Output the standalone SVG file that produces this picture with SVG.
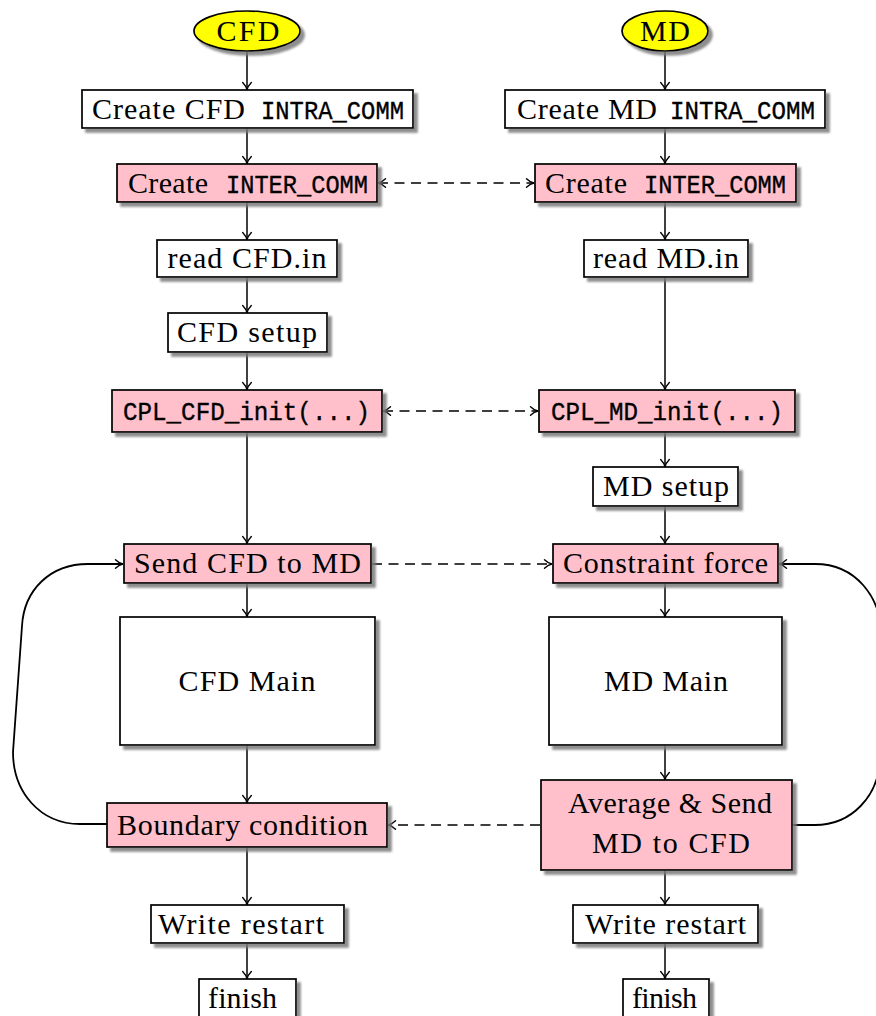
<svg xmlns="http://www.w3.org/2000/svg" width="876" height="1016" viewBox="0 0 876 1016">
  <defs>
    <filter id="shadow" x="-10%" y="-10%" width="125%" height="140%">
      <feOffset in="SourceAlpha" dx="3.5" dy="3.5" result="off"/>
      <feGaussianBlur in="off" stdDeviation="1.3" result="blur"/>
      <feFlood flood-color="#7a7a7a" flood-opacity="0.85"/>
      <feComposite in2="blur" operator="in" result="shade"/>
      <feMerge>
        <feMergeNode in="shade"/>
        <feMergeNode in="SourceGraphic"/>
      </feMerge>
    </filter>
    <marker id="tip" viewBox="-10 -6 12 12" refX="0" refY="0" markerWidth="12" markerHeight="12" markerUnits="userSpaceOnUse" orient="auto-start-reverse">
      <path d="M-7.5,-4.3 C-4.8,-1.7 -2.4,-0.4 0,0 C-2.4,0.4 -4.8,1.7 -7.5,4.3" fill="none" stroke="#000" stroke-width="1.4" stroke-linecap="round"/>
    </marker>
  </defs>
  <style>
    .box { stroke: #000; stroke-width: 1.7; filter: url(#shadow); }
    .plain { fill: #fff; }
    .pink { fill: #ffc0cb; }
    .start { fill: #ffff00; stroke: #000; stroke-width: 1.7; filter: url(#shadow); }
    .rm { font-family: "Liberation Serif", "Times New Roman", serif; font-size: 30px; fill: #000; }
    .tt { font-family: "Liberation Mono", "Courier New", monospace; font-size: 26px; fill: #000; stroke: #000; stroke-width: 0.35; }
    .flow { fill: none; stroke: #000; stroke-width: 1.5; marker-end: url(#tip); }
    .both { fill: none; stroke: #000; stroke-width: 1.6; stroke-dasharray: 10 6.5; marker-start: url(#tip); marker-end: url(#tip); }
    .one { fill: none; stroke: #000; stroke-width: 1.6; stroke-dasharray: 10 6.5; marker-end: url(#tip); }
    .loop { fill: none; stroke: #000; stroke-width: 1.8; marker-end: url(#tip); }
  </style>

  <!-- connectors -->
  <g id="connectors">
    <!-- CFD column -->
    <path class="flow" d="M247,51 V90"/>
    <path class="flow" d="M247,128 V164"/>
    <path class="flow" d="M247,202 V240"/>
    <path class="flow" d="M247,277 V313"/>
    <path class="flow" d="M247,352 V390"/>
    <path class="flow" d="M247,432 V544"/>
    <path class="flow" d="M247,583 V617"/>
    <path class="flow" d="M247,745 V803"/>
    <path class="flow" d="M247,847 V905"/>
    <path class="flow" d="M247,943 V979"/>
    <!-- MD column -->
    <path class="flow" d="M665,51 V90"/>
    <path class="flow" d="M665,128 V164"/>
    <path class="flow" d="M665,202 V240"/>
    <path class="flow" d="M665,277 V390"/>
    <path class="flow" d="M665,432 V467"/>
    <path class="flow" d="M665,506 V544"/>
    <path class="flow" d="M665,583 V617"/>
    <path class="flow" d="M665,745 V780"/>
    <path class="flow" d="M665,870 V905"/>
    <path class="flow" d="M665,943 V979"/>
    <!-- coupling exchanges -->
    <path class="both" d="M378,183 H534"/>
    <path class="both" d="M383,411 H538"/>
    <path class="one" d="M372,564 H552"/>
    <path class="one" d="M540,825 H388"/>
    <!-- time-step loops -->
    <path class="loop" d="M107,824 H80 C40,824 13,792 13,752 L22,626 C24,590 50,564 88,564 H123"/>
    <path class="loop" d="M792,825 H815 C852,825 878,796 880,760 L882,640 C882,596 855,564 815,564 H779"/>
  </g>

  <!-- start terminals -->
  <g id="cfd-start">
    <ellipse class="start" cx="247" cy="31" rx="53" ry="20"/>
    <text class="rm" x="248" y="41" text-anchor="middle" textLength="63">CFD</text>
  </g>
  <g id="md-start">
    <ellipse class="start" cx="665" cy="31" rx="43" ry="20"/>
    <text class="rm" x="665" y="41" text-anchor="middle" textLength="50">MD</text>
  </g>

  <!-- CFD column nodes -->
  <g id="cfd-intra">
    <rect class="box plain" x="82" y="90" width="331" height="38"/>
    <text class="rm" x="92" y="119" textLength="153">Create CFD</text>
    <text class="tt" x="261" y="119" textLength="143" lengthAdjust="spacingAndGlyphs">INTRA_COMM</text>
  </g>
  <g id="cfd-inter">
    <rect class="box pink" x="117" y="164" width="260" height="38"/>
    <text class="rm" x="128" y="193" textLength="80">Create</text>
    <text class="tt" x="226" y="193" textLength="142" lengthAdjust="spacingAndGlyphs">INTER_COMM</text>
  </g>
  <g id="cfd-read">
    <rect class="box plain" x="157" y="240" width="180" height="37"/>
    <text class="rm" x="247" y="268" text-anchor="middle" textLength="159">read CFD.in</text>
  </g>
  <g id="cfd-setup">
    <rect class="box plain" x="168" y="313" width="159" height="39"/>
    <text class="rm" x="247" y="342" text-anchor="middle" textLength="140">CFD setup</text>
  </g>
  <g id="cfd-init">
    <rect class="box pink" x="112" y="390" width="270" height="42"/>
    <text class="tt" x="123" y="420" textLength="247" lengthAdjust="spacingAndGlyphs">CPL_CFD_init(...)</text>
  </g>
  <g id="cfd-send">
    <rect class="box pink" x="124" y="544" width="247" height="39"/>
    <text class="rm" x="134" y="573" textLength="227">Send CFD to MD</text>
  </g>
  <g id="cfd-main">
    <rect class="box plain" x="120" y="617" width="255" height="128"/>
    <text class="rm" x="247" y="691" text-anchor="middle" textLength="137">CFD Main</text>
  </g>
  <g id="cfd-boundary">
    <rect class="box pink" x="107" y="803" width="280" height="44"/>
    <text class="rm" x="117" y="835" textLength="251">Boundary condition</text>
  </g>
  <g id="cfd-restart">
    <rect class="box plain" x="151" y="905" width="193" height="38"/>
    <text class="rm" x="158" y="934" textLength="166">Write restart</text>
  </g>
  <g id="cfd-finish">
    <rect class="box plain" x="199" y="979" width="97" height="44"/>
    <text class="rm" x="208" y="1008" textLength="69">finish</text>
  </g>

  <!-- MD column nodes -->
  <g id="md-intra">
    <rect class="box plain" x="505" y="90" width="320" height="38"/>
    <text class="rm" x="517" y="119" textLength="140">Create MD</text>
    <text class="tt" x="670" y="119" textLength="145" lengthAdjust="spacingAndGlyphs">INTRA_COMM</text>
  </g>
  <g id="md-inter">
    <rect class="box pink" x="535" y="164" width="261" height="38"/>
    <text class="rm" x="545" y="193" textLength="82">Create</text>
    <text class="tt" x="644" y="193" textLength="142" lengthAdjust="spacingAndGlyphs">INTER_COMM</text>
  </g>
  <g id="md-read">
    <rect class="box plain" x="584" y="240" width="164" height="37"/>
    <text class="rm" x="666" y="268" text-anchor="middle" textLength="146">read MD.in</text>
  </g>
  <g id="md-init">
    <rect class="box pink" x="539" y="390" width="256" height="42"/>
    <text class="tt" x="551" y="420" textLength="232" lengthAdjust="spacingAndGlyphs">CPL_MD_init(...)</text>
  </g>
  <g id="md-setup">
    <rect class="box plain" x="593" y="467" width="145" height="39"/>
    <text class="rm" x="666" y="496" text-anchor="middle" textLength="126">MD setup</text>
  </g>
  <g id="md-constraint">
    <rect class="box pink" x="553" y="544" width="225" height="39"/>
    <text class="rm" x="563" y="573" textLength="205">Constraint force</text>
  </g>
  <g id="md-main">
    <rect class="box plain" x="549" y="617" width="233" height="128"/>
    <text class="rm" x="666" y="691" text-anchor="middle" textLength="124">MD Main</text>
  </g>
  <g id="md-average">
    <rect class="box pink" x="541" y="780" width="251" height="90"/>
    <text class="rm" x="568" y="813" textLength="204">Average &amp; Send</text>
    <text class="rm" x="592" y="853" textLength="158">MD to CFD</text>
  </g>
  <g id="md-restart">
    <rect class="box plain" x="573" y="905" width="185" height="38"/>
    <text class="rm" x="585" y="934" textLength="161">Write restart</text>
  </g>
  <g id="md-finish">
    <rect class="box plain" x="623" y="979" width="86" height="44"/>
    <text class="rm" x="632" y="1008" textLength="65">finish</text>
  </g>
</svg>
